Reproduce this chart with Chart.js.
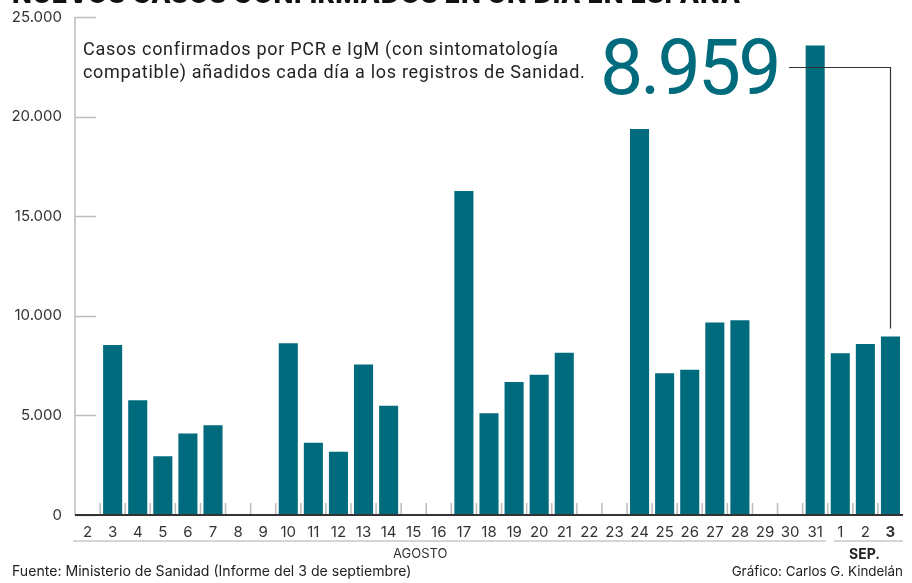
<!DOCTYPE html>
<html>
<head>
<meta charset="utf-8">
<script src="https://cdn.jsdelivr.net/npm/chart.js@4.4.0/dist/chart.umd.min.js"></script>
<style>
  body { margin: 0; background: #fff; }
  #wrap { position: relative; width: 912px; height: 583px; overflow: hidden; font-family: Inter, "Noto Sans", sans-serif; }
  #chart { position: absolute; left: 0; top: 0; }
  .txt { position: absolute; white-space: nowrap; color: #222; }
  #title { left: 12px; top: -22px; font-size: 26px; font-weight: 800; letter-spacing: 0.5px; color: #111; }
  #note { left: 83px; top: 37px; font-size: 18px; line-height: 23px; font-family: Roboto, sans-serif; letter-spacing: 0.7px; color: #222; }
  #big { left: 600px; top: 23px; font-size: 77px; font-family: Roboto, sans-serif; color: #006b7d; letter-spacing: -3px; }
  #month1 { left: 393px; top: 545px; font-size: 13px; color: #333; }
  #month2 { left: 849px; top: 545px; font-size: 14px; font-weight: 700; color: #222; }
  #source { left: 12px; top: 562px; font-size: 14.1px; color: #222; }
  #credit { right: 9px; top: 563px; font-size: 13.4px; color: #222; }
</style>
</head>
<body>
<div id="wrap">
  <canvas id="chart" width="912" height="583"></canvas>
  <div class="txt" id="title">NUEVOS CASOS CONFIRMADOS EN UN DÍA EN ESPAÑA</div>
  <div class="txt" id="note">Casos confirmados por PCR e IgM (con sintomatología<br>compatible) añadidos cada día a los registros de Sanidad.</div>
  <div class="txt" id="big">8.959</div>
  <div class="txt" id="month1">AGOSTO</div>
  <div class="txt" id="month2">SEP.</div>
  <div class="txt" id="source">Fuente: Ministerio de Sanidad (Informe del 3 de septiembre)</div>
  <div class="txt" id="credit">Gráfico: Carlos G. Kindelán</div>
</div>
<script>
const days = ["2", "3", "4", "5", "6", "7", "8", "9", "10", "11", "12", "13", "14", "15", "16",
  "17", "18", "19", "20", "21", "22", "23", "24", "25", "26", "27", "28", "29", "30", "31",
  "1", "2", "3"];
const newCases = [0, 8532, 5760, 2953, 4088, 4507, 0, 0, 8618, 3632, 3172, 7550, 5479, 0, 0,
  16269, 5114, 6671, 7039, 8148, 0, 0, 19382, 7117, 7296, 9658, 9779, 0, 0, 23572,
  8115, 8581, 8959];
const yTicks = [0, 5000, 10000, 15000, 20000, 25000];
const augustCount = 30;

const barColor = "#006b7d";

function formatNum(v) {
  return String(v).replace(/\B(?=(\d{3})+(?!\d))/g, ".");
}

// short ticks, separators, brackets and leader line
const decorations = {
  id: "decorations",
  beforeDatasetsDraw(chart) {
    const { ctx, chartArea: area, scales: { x, y } } = chart;
    ctx.save();
    // y axis line
    ctx.strokeStyle = "#bdbdbd";
    ctx.lineWidth = 1.5;
    ctx.beginPath();
    ctx.moveTo(area.left, area.top);
    ctx.lineTo(area.left, area.bottom);
    ctx.stroke();
    // inner y ticks
    yTicks.forEach((v) => {
      const py = Math.round(y.getPixelForValue(v)) + 0.5;
      ctx.beginPath();
      ctx.moveTo(area.left, py);
      ctx.lineTo(area.left + 21, py);
      ctx.stroke();
    });
    // category separators
    ctx.strokeStyle = "#bbbbbb";
    ctx.lineWidth = 1.5;
    const step = x.getPixelForValue(1) - x.getPixelForValue(0);
    for (let i = 1; i < days.length; i++) {
      const px = x.getPixelForValue(i) - step / 2;
      ctx.beginPath();
      ctx.moveTo(px, area.bottom - 12);
      ctx.lineTo(px, area.bottom);
      ctx.stroke();
    }
    ctx.restore();
  },
  afterDatasetsDraw(chart) {
    const { ctx, chartArea: area, scales: { x, y } } = chart;
    ctx.save();
    // baseline
    ctx.strokeStyle = "#333";
    ctx.lineWidth = 2;
    ctx.beginPath();
    ctx.moveTo(area.left, area.bottom);
    ctx.lineTo(area.right, area.bottom);
    ctx.stroke();
    // month brackets
    const step = x.getPixelForValue(1) - x.getPixelForValue(0);
    const split = x.getPixelForValue(augustCount) - step / 2;
    ctx.strokeStyle = "#c8c8c8";
    ctx.lineWidth = 1.5;
    ctx.beginPath();
    ctx.moveTo(area.left - 2, 541);
    ctx.lineTo(split - 2, 541);
    ctx.moveTo(split + 6, 541);
    ctx.lineTo(area.right, 541);
    ctx.stroke();
    // leader line to last bar
    const last = days.length - 1;
    const lx = Math.round(x.getPixelForValue(last)) + 0.5;
    const ly = y.getPixelForValue(newCases[last]) - 8;
    ctx.strokeStyle = "#333";
    ctx.lineWidth = 1.2;
    ctx.beginPath();
    ctx.moveTo(789, 67.5);
    ctx.lineTo(lx, 67.5);
    ctx.lineTo(lx, ly);
    ctx.stroke();
    ctx.restore();
  },
};

new Chart(document.getElementById("chart"), {
  type: "bar",
  data: {
    labels: days,
    datasets: [{
      data: newCases,
      backgroundColor: barColor,
      barPercentage: 0.76,
      categoryPercentage: 1,
    }],
  },
  options: {
    responsive: false,
    animation: false,
    layout: { padding: { top: 17, right: 9, bottom: 0, left: 0 } },
    plugins: { legend: { display: false }, tooltip: { enabled: false } },
    scales: {
      x: {
        grid: { display: false, drawTicks: false },
        border: { display: false },
        ticks: {
          padding: 8,
          maxRotation: 0,
          autoSkip: false,
          color: "#333",
          font: (c) => ({
            family: "Inter",
            size: 15,
            weight: c.index === days.length - 1 ? "bold" : "normal",
          }),
        },
        afterFit(scale) { scale.height = 68; },
      },
      y: {
        min: 0,
        max: 25000,
        afterBuildTicks(scale) { scale.ticks = yTicks.map((v) => ({ value: v })); },
        grid: { display: false, drawTicks: false },
        border: { display: false },
        ticks: {
          padding: 13,
          color: "#333",
          font: { family: "Inter", size: 15 },
          callback: (v) => formatNum(v),
        },
        afterFit(scale) {
          scale.width = 75;
          scale.paddingTop = 0;
          scale.paddingBottom = 0;
        },
      },
    },
  },
  plugins: [decorations],
});
</script>
</body>
</html>
